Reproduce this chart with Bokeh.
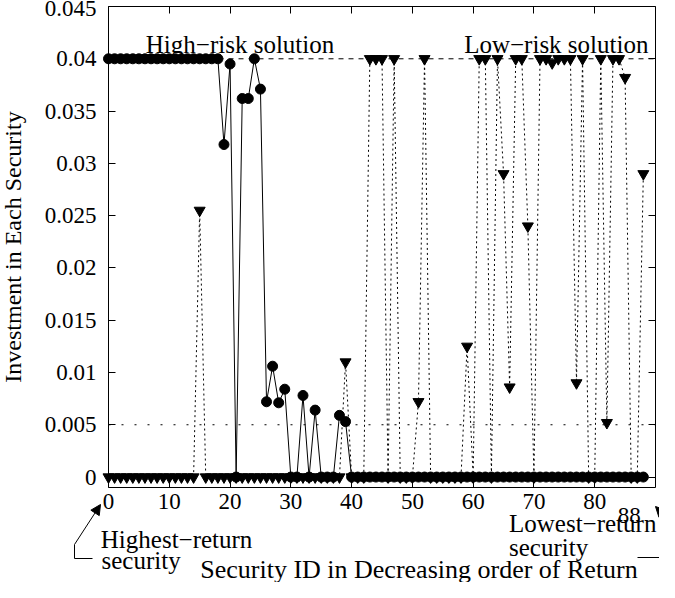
from bokeh.plotting import figure
from bokeh.models import (Range1d, FixedTicker, LinearAxis, Label, Arrow,
                          NormalHead, ColumnDataSource)
from bokeh.embed import file_html
from bokeh.resources import INLINE

# ---------------- data ----------------
security_id = list(range(89))

high_risk = ([0.04] * 19 +
             [0.0318, 0.0395, 0.0, 0.0362, 0.0362, 0.04, 0.0371,
              0.0072, 0.0106, 0.0071, 0.0084, 0.0, 0.0, 0.0078, 0.0,
              0.0064, 0.0, 0.0, 0.0, 0.0059, 0.0053] +
             [0.0] * 49)

low_risk = ([0.0] * 15 + [0.0255] + [0.0] * 23 + [0.0110] +
            [0.0, 0.0, 0.0, 0.04, 0.04, 0.04, 0.0, 0.04, 0.0, 0.0, 0.0,
             0.0072, 0.04, 0.0, 0.0, 0.0, 0.0, 0.0, 0.0, 0.0125, 0.0,
             0.04, 0.04, 0.0, 0.04, 0.0290, 0.0086, 0.04, 0.04, 0.0240,
             0.0, 0.04, 0.04, 0.0396, 0.04, 0.04, 0.04, 0.0090, 0.04,
             0.0, 0.0, 0.04, 0.0052, 0.04, 0.04, 0.0382, 0.0, 0.0, 0.0290])

x_ticks = [0, 10, 20, 30, 40, 50, 60, 70, 80]
x_last_label = "88"
y_ticks = [0, 0.005, 0.01, 0.015, 0.02, 0.025, 0.03, 0.035, 0.04, 0.045]
y_tick_labels = ["0", "0.005", "0.01", "0.015", "0.02", "0.025", "0.03",
                 "0.035", "0.04", "0.045"]
ref_high = 0.04
ref_low = 0.005

# ---------------- geometry ----------------
FONT = "Liberation Serif"
W, H = 659, 582                 # canvas
L, R, T, B = 108, 4, 6, 95      # space around the data box
X0, X1 = 0, 90                  # data box extent
Y0, Y1 = -0.001, 0.045
SX = (W - L - R) / (X1 - X0)
SY = (H - T - B) / (Y1 - Y0)

def dx(page_x):                 # page pixel -> data x
    return X0 + (page_x - 8 - L) / SX

def dy(page_y):                 # page pixel -> data y
    return Y1 - (page_y - 8 - T) / SY

src = ColumnDataSource(dict(x=security_id, high=high_risk, low=low_risk))

p = figure(width=W, height=H, output_backend="svg", toolbar_location=None,
           title=None,
           x_range=Range1d(X0 - L / SX, X1 + R / SX),
           y_range=Range1d(Y0 - B / SY, Y1 + T / SY),
           min_border=0)
p.grid.visible = False
p.outline_line_color = None

# ---------------- axes (drawn on the data box) ----------------
xt = FixedTicker(ticks=x_ticks)
yt = FixedTicker(ticks=y_ticks)
common = dict(major_tick_in=7, major_tick_out=0, minor_tick_in=0,
              minor_tick_out=0, minor_tick_line_color=None,
              axis_line_color="black", major_tick_line_color="black",
              major_label_text_font=FONT, major_label_text_font_size="23px",
              major_label_text_color="black")

xa = p.xaxis[0]
xa.update(ticker=xt, fixed_location=Y0, bounds=(X0, X1),
          major_label_standoff=6, **common)
ya = p.yaxis[0]
ya.update(ticker=yt, fixed_location=X0, bounds=(Y0, Y1),
          major_label_standoff=12,
          major_label_overrides={v: s for v, s in zip(y_ticks, y_tick_labels)},
          axis_label="Investment in Each Security", axis_label_text_font=FONT,
          axis_label_text_font_size="24px", axis_label_text_font_style="normal",
          axis_label_text_color="black", axis_label_standoff=16, **common)

top_ax = LinearAxis(ticker=xt, fixed_location=Y1, bounds=(X0, X1),
                    major_label_overrides={t: "" for t in x_ticks},
                    major_label_standoff=0, **common)
right_ax = LinearAxis(ticker=yt, fixed_location=X1, bounds=(Y0, Y1),
                      major_label_overrides={t: "" for t in y_ticks},
                      major_label_standoff=0, **common)
p.add_layout(top_ax, "above")
p.add_layout(right_ax, "right")

# ---------------- reference lines ----------------
p.line([X0, X1], [ref_high, ref_high], line_color="black", line_width=1,
       line_dash="5 5", level="underlay")
p.line([X0, X1], [ref_low, ref_low], line_color="black", line_width=1,
       line_dash="2 11", level="underlay")

# ---------------- series ----------------
p.line("x", "low", source=src, line_color="black", line_width=1, line_dash="2 3")
p.line("x", "high", source=src, line_color="black", line_width=1)
p.scatter("x", "low", source=src, marker="inverted_triangle", size=11,
          fill_color="black", line_color="black")
p.scatter("x", "high", source=src, marker="circle", size=10,
          fill_color="black", line_color="black")

# ---------------- notes ----------------
def lab(px, py, t, size="25px", align="left"):
    p.add_layout(Label(x=dx(px), y=dy(py), text=t, text_font=FONT,
                       text_font_size=size, text_align=align,
                       text_baseline="alphabetic", text_color="black"))

lab(153.3, 52.3, "High\u2212risk solution")
lab(471.7, 52.3, "Low\u2212risk solution")
lab(108.3, 546.7, "Highest\u2212return")
lab(109.0, 568.0, "security")
lab(516.5, 531.0, "Lowest\u2212return")
lab(516.5, 555.0, "security")
lab(636.7, 523.3, x_last_label, size="23px", align="center")
lab(426.5, 577.0, "Security ID in Decreasing order of Return", size="26px",
    align="center")

def seg(x0, y0, x1, y1, head=False):
    p.add_layout(Arrow(x_start=dx(x0), y_start=dy(y0), x_end=dx(x1),
                       y_end=dy(y1), line_color="black", line_width=1,
                       end=NormalHead(size=10, fill_color="black",
                                      line_color="black") if head else None))

seg(100, 566, 82, 566)
seg(82, 566, 82, 552)
seg(82, 552, 108, 512, head=True)
seg(645, 565, 700, 565)
seg(700, 565, 700, 552)
seg(700, 552, 663, 514, head=True)

open("out.html", "w").write(file_html(p, INLINE))
